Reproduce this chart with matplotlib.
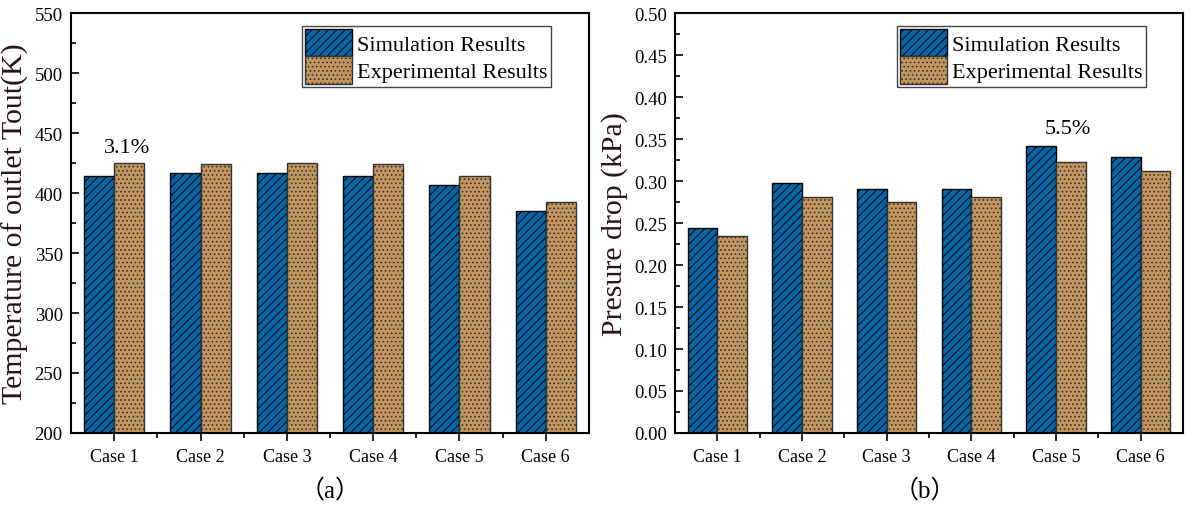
import matplotlib
matplotlib.use("Agg")
import matplotlib.pyplot as plt
import numpy as np
from matplotlib.ticker import MultipleLocator, FixedLocator

plt.rcParams['font.family'] = ['Liberation Serif', 'Noto Sans CJK SC']
plt.rcParams['hatch.linewidth'] = 0.7

cases = ["Case 1", "Case 2", "Case 3", "Case 4", "Case 5", "Case 6"]
temp_sim = [414.3, 416.9, 416.9, 414.3, 406.8, 385.4]
temp_exp = [424.7, 423.9, 424.7, 423.9, 414.3, 392.8]
dp_sim = [0.244, 0.298, 0.290, 0.290, 0.342, 0.328]
dp_exp = [0.234, 0.281, 0.275, 0.281, 0.323, 0.312]

blue = '#0567a8'
brown = '#c4955f'

fig = plt.figure(figsize=(11.92, 5.06), dpi=100)
ax1 = fig.add_axes([0.0596, 0.1423, 0.4345, 0.8300])
ax2 = fig.add_axes([0.5663, 0.1423, 0.4262, 0.8300])

x = np.arange(len(cases))
w = 0.35

def draw(ax, sim, exp, ylim, ymajor, yminor, ylabel, fmt):
    ax.bar(x - w/2, sim, w, color=blue, edgecolor='black', hatch='////', linewidth=1.0,
           label='Simulation Results')
    ax.bar(x + w/2, exp, w, color=brown, edgecolor='#333333', hatch='....', linewidth=1.0,
           label='Experimental Results')
    ax.set_xlim(-0.5, len(cases) - 0.5)
    ax.set_ylim(*ylim)
    ax.set_xticks(x)
    ax.set_xticklabels(cases, fontsize=13)
    ax.xaxis.set_minor_locator(FixedLocator(x[:-1] + 0.5))
    ax.yaxis.set_major_locator(MultipleLocator(ymajor))
    ax.yaxis.set_minor_locator(MultipleLocator(yminor))
    ax.yaxis.set_major_formatter(matplotlib.ticker.FormatStrFormatter(fmt))
    ax.tick_params(axis='y', which='major', direction='in', length=6, width=1.2, labelsize=13.5, pad=6)
    ax.tick_params(axis='y', which='minor', direction='in', length=3.5, width=1.2)
    ax.tick_params(axis='x', which='major', direction='out', length=6, width=1.2, pad=5)
    ax.tick_params(axis='x', which='minor', direction='out', length=3.5, width=1.2)
    for s in ax.spines.values():
        s.set_linewidth(1.5)
    ax.set_ylabel(ylabel, fontsize=21.5, color='#2a1414', labelpad=4)
    leg = ax.legend(loc='upper right', bbox_to_anchor=(0.94, 0.985), fontsize=16,
                    handlelength=2.1, handleheight=1.5, borderpad=0.15,
                    labelspacing=0.0, handletextpad=0.25, borderaxespad=0.3,
                    fancybox=False, framealpha=1)
    leg.get_frame().set_edgecolor('#444444')
    leg.get_frame().set_linewidth(1.0)

draw(ax1, temp_sim, temp_exp, (200, 550), 50, 25, 'Temperature of outlet Tout(K)', '%d')
draw(ax2, dp_sim, dp_exp, (0, 0.5), 0.05, 0.025, 'Presure drop (kPa)', '%.2f')

ax1.text(0 + 0.15, 430, '3.1%', ha='center', va='bottom', fontsize=16)
ax2.text(4 + 0.14, 0.351, '5.5%', ha='center', va='bottom', fontsize=16)

fig.text(0.277, 0.03, '（a）', ha='center', va='center', fontsize=18)
fig.text(0.776, 0.03, '（b）', ha='center', va='center', fontsize=18)

fig.savefig('out.png', dpi=100)
